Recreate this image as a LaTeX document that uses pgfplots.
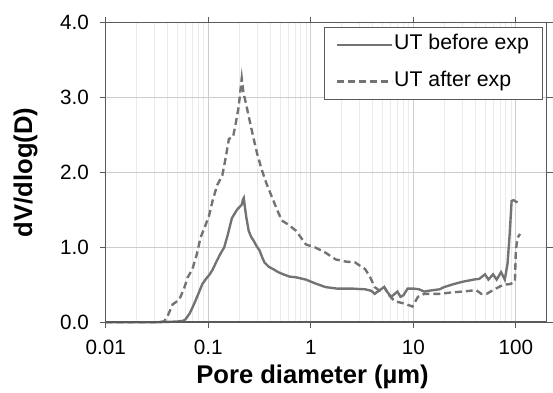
\documentclass[border=0pt]{standalone}
\usepackage{pgfplots}
\pgfplotsset{compat=1.18}
\usepackage{fontspec}
\setmainfont{Liberation Sans}
\definecolor{curve}{RGB}{115,115,115}
\definecolor{majgrid}{RGB}{205,205,205}
\definecolor{mingrid}{RGB}{235,235,235}
\definecolor{axisc}{RGB}{90,90,90}
\begin{document}
\begin{tikzpicture}
\begin{axis}[
  scale only axis,
  width=446bp, height=303bp,
  xmode=log,
  xmin=0.01, xmax=200,
  ymin=0, ymax=4,
  xtick={0.01,0.1,1,10,100},
  xticklabels={0.01,0.1,1,10,100},
  ytick={0,1,2,3,4},
  yticklabels={0.0,1.0,2.0,3.0,4.0},
  minor xtick={0.02,0.03,0.04,0.05,0.06,0.07,0.08,0.09,0.2,0.3,0.4,0.5,0.6,0.7,0.8,0.9,2,3,4,5,6,7,8,9,20,30,40,50,60,70,80,90,200},
  xmajorgrids, xminorgrids, ymajorgrids,
  major grid style={draw=majgrid, line width=0.8bp},
  minor grid style={draw=mingrid, line width=0.8bp},
  tick align=outside,
  major tick length=6bp,
  minor tick length=0bp,
  tick style={draw=axisc, line width=0.8bp},
  axis line style={draw=axisc, line width=0.8bp},
  ticklabel style={font=\fontsize{21}{24}\selectfont},
  xticklabel style={anchor=base, yshift=-27bp},
  yticklabel style={anchor=east, inner sep=0pt, xshift=-11bp},
  xlabel={\textbf{Pore diameter (µm)}},
  ylabel={\textbf{dV/dlog(D)}},
  label style={font=\fontsize{26}{30}\selectfont},
  xlabel style={at={(axis description cs:0.469,-0.2046)}, anchor=base},
  ylabel style={at={(axis description cs:-0.182,0.5)}, anchor=center},
  legend image code/.code={\draw[#1] (6bp,0bp) -- (61bp,0bp);},
  legend style={at={(rel axis cs:1,1)}, xshift=-4bp, yshift=-4bp, anchor=north east,
    draw=axisc, line width=0.8bp, fill=white,
    font=\fontsize{21.6}{25}\selectfont,
    inner xsep=12bp, inner ysep=0bp,
    nodes={inner xsep=1.5bp, inner ysep=8bp, text height=15bp, text depth=5bp},
    row sep=1bp},
  legend cell align=left,
  clip=false,
]
\addplot[curve, line width=2.4bp] coordinates {
(0.01,0) (0.02,0) (0.03,0) (0.04,0.005) (0.05,0.01) (0.057,0.02) (0.060,0.04)
(0.066,0.12) (0.073,0.25) (0.080,0.38) (0.0875,0.51) (0.095,0.58) (0.102,0.63)
(0.110,0.70) (0.122,0.83) (0.132,0.92) (0.143,1.0) (0.155,1.17) (0.170,1.39)
(0.19,1.50) (0.205,1.55) (0.212,1.57) (0.218,1.64) (0.222,1.66) (0.227,1.55)
(0.235,1.40) (0.248,1.22) (0.262,1.14) (0.277,1.09) (0.295,1.02) (0.316,0.96)
(0.335,0.87) (0.353,0.80) (0.39,0.74) (0.43,0.71) (0.48,0.67) (0.54,0.64)
(0.62,0.61) (0.72,0.60) (0.895,0.57) (1.1,0.52) (1.39,0.47) (1.8,0.45)
(2.5,0.45) (3.39,0.44) (3.9,0.42) (4.2,0.38) (4.7,0.43) (5.2,0.47) (5.6,0.40)
(6.1,0.34) (6.6,0.38) (7.0,0.41) (7.5,0.34) (8.0,0.36) (8.8,0.45) (10,0.45)
(11.4,0.44) (12.8,0.41) (14,0.42) (15.9,0.43) (18,0.44) (20,0.47) (24.8,0.51)
(30,0.54) (38.7,0.57) (44,0.58) (50,0.64) (54,0.57) (60,0.64) (65,0.57)
(71.8,0.67) (78,0.57) (83,0.78) (87,1.17) (91,1.62) (95,1.63) (104,1.60)
};
\addlegendentry{UT before exp}
\addplot[curve, line width=2.4bp, dash pattern=on 7bp off 4bp] coordinates {
(0.01,0) (0.02,0) (0.03,0) (0.037,0.01) (0.040,0.08) (0.045,0.24) (0.052,0.30)
(0.058,0.45) (0.063,0.60) (0.070,0.71) (0.077,0.90) (0.084,1.13) (0.093,1.28)
(0.102,1.43) (0.110,1.62) (0.122,1.83) (0.137,1.96) (0.148,2.2) (0.159,2.45)
(0.174,2.47) (0.185,2.65) (0.198,2.88) (0.212,3.26) (0.22,3.07) (0.235,2.90)
(0.248,2.75) (0.277,2.45) (0.30,2.25) (0.33,2.05) (0.37,1.85) (0.41,1.70)
(0.46,1.53) (0.52,1.36) (0.61,1.30) (0.72,1.22) (0.895,1.04) (1.1,1.00)
(1.39,0.93) (1.74,0.84) (2.2,0.81) (2.7,0.80) (3.39,0.71) (3.8,0.60) (4.2,0.47)
(4.7,0.42) (5.2,0.47) (5.8,0.36) (6.6,0.28) (8.2,0.25) (9.8,0.21) (11.1,0.34)
(12.8,0.38) (18.5,0.38) (24,0.40) (30.6,0.41) (41,0.43) (46,0.38) (52,0.38)
(60,0.43) (75,0.50) (88,0.51) (98,0.54) (100,0.96) (104,1.13) (110,1.18)
};
\addlegendentry{UT after exp}
\draw[axisc, line width=2bp] (rel axis cs:0,0) -- (rel axis cs:1,0);
\end{axis}
\path (current axis.south west) ++(-107bp,-70bp) coordinate (bl);
\path (current axis.north east) ++(0bp,23bp) coordinate (tr);
\path (bl) rectangle (tr);
\end{tikzpicture}
\end{document}
